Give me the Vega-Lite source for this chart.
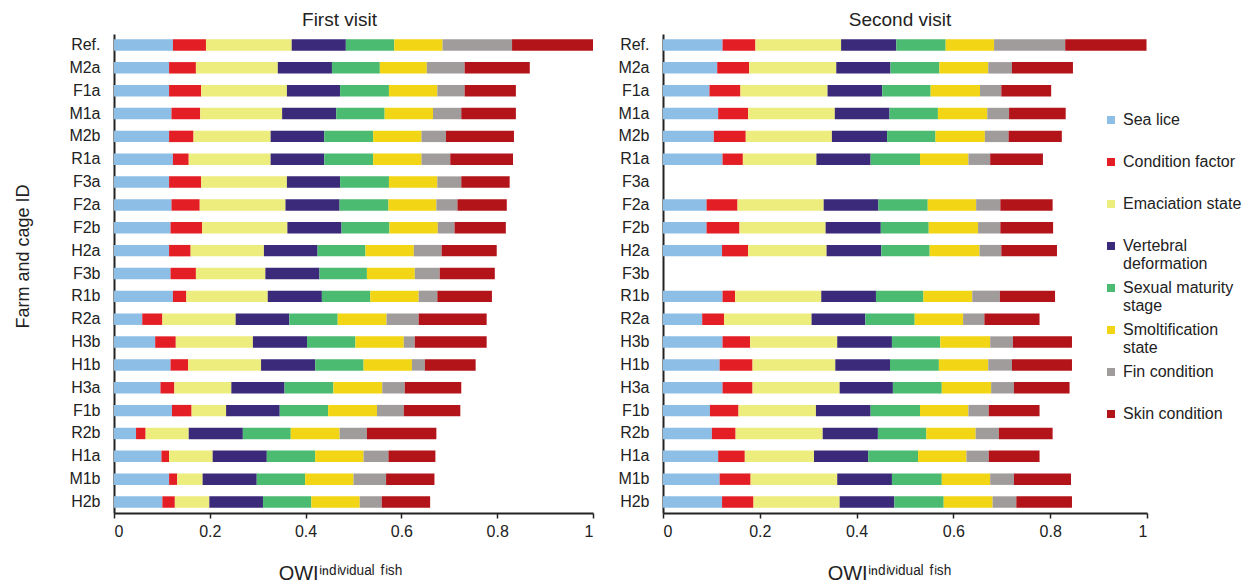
{
  "$schema": "https://vega.github.io/schema/vega-lite/v6.json",
  "padding": {"left": 14, "top": 11, "right": 5, "bottom": 2},
  "background": "white",
  "config": {
    "font": "Liberation Sans",
    "view": {"stroke": null},
    "axis": {"labelFont": "Liberation Sans", "titleFont": "Liberation Sans", "labelColor": "#222", "titleColor": "#222", "domainColor": "#222", "tickColor": "#222", "grid": false},
    "legend": {"labelFont": "Liberation Sans"}
  },
  "datasets": {
    "order": [
      {"component": "Sea lice", "rank": 1},
      {"component": "Condition factor", "rank": 2},
      {"component": "Emaciation state", "rank": 3},
      {"component": "Vertebral deformation", "rank": 4},
      {"component": "Sexual maturity stage", "rank": 5},
      {"component": "Smoltification state", "rank": 6},
      {"component": "Fin condition", "rank": 7},
      {"component": "Skin condition", "rank": 8}
    ],
    "first": [
      {"id": "Ref.", "Sea lice": 0.123, "Condition factor": 0.069, "Emaciation state": 0.179, "Vertebral deformation": 0.113, "Sexual maturity stage": 0.101, "Smoltification state": 0.101, "Fin condition": 0.145, "Skin condition": 0.169},
      {"id": "M2a", "Sea lice": 0.115, "Condition factor": 0.056, "Emaciation state": 0.171, "Vertebral deformation": 0.113, "Sexual maturity stage": 0.100, "Smoltification state": 0.098, "Fin condition": 0.079, "Skin condition": 0.136},
      {"id": "F1a", "Sea lice": 0.115, "Condition factor": 0.067, "Emaciation state": 0.179, "Vertebral deformation": 0.111, "Sexual maturity stage": 0.102, "Smoltification state": 0.101, "Fin condition": 0.057, "Skin condition": 0.107},
      {"id": "M1a", "Sea lice": 0.120, "Condition factor": 0.060, "Emaciation state": 0.171, "Vertebral deformation": 0.113, "Sexual maturity stage": 0.101, "Smoltification state": 0.101, "Fin condition": 0.059, "Skin condition": 0.114},
      {"id": "M2b", "Sea lice": 0.115, "Condition factor": 0.051, "Emaciation state": 0.161, "Vertebral deformation": 0.112, "Sexual maturity stage": 0.102, "Smoltification state": 0.101, "Fin condition": 0.051, "Skin condition": 0.142},
      {"id": "R1a", "Sea lice": 0.123, "Condition factor": 0.033, "Emaciation state": 0.171, "Vertebral deformation": 0.112, "Sexual maturity stage": 0.102, "Smoltification state": 0.101, "Fin condition": 0.060, "Skin condition": 0.131},
      {"id": "F3a", "Sea lice": 0.115, "Condition factor": 0.067, "Emaciation state": 0.179, "Vertebral deformation": 0.111, "Sexual maturity stage": 0.102, "Smoltification state": 0.101, "Fin condition": 0.050, "Skin condition": 0.101},
      {"id": "F2a", "Sea lice": 0.120, "Condition factor": 0.059, "Emaciation state": 0.179, "Vertebral deformation": 0.113, "Sexual maturity stage": 0.102, "Smoltification state": 0.100, "Fin condition": 0.044, "Skin condition": 0.103},
      {"id": "F2b", "Sea lice": 0.118, "Condition factor": 0.066, "Emaciation state": 0.178, "Vertebral deformation": 0.113, "Sexual maturity stage": 0.100, "Smoltification state": 0.101, "Fin condition": 0.035, "Skin condition": 0.107},
      {"id": "H2a", "Sea lice": 0.115, "Condition factor": 0.045, "Emaciation state": 0.153, "Vertebral deformation": 0.112, "Sexual maturity stage": 0.100, "Smoltification state": 0.101, "Fin condition": 0.058, "Skin condition": 0.115},
      {"id": "F3b", "Sea lice": 0.118, "Condition factor": 0.053, "Emaciation state": 0.145, "Vertebral deformation": 0.113, "Sexual maturity stage": 0.099, "Smoltification state": 0.100, "Fin condition": 0.052, "Skin condition": 0.115},
      {"id": "R1b", "Sea lice": 0.123, "Condition factor": 0.028, "Emaciation state": 0.170, "Vertebral deformation": 0.113, "Sexual maturity stage": 0.101, "Smoltification state": 0.101, "Fin condition": 0.039, "Skin condition": 0.114},
      {"id": "R2a", "Sea lice": 0.059, "Condition factor": 0.042, "Emaciation state": 0.153, "Vertebral deformation": 0.112, "Sexual maturity stage": 0.101, "Smoltification state": 0.102, "Fin condition": 0.067, "Skin condition": 0.142},
      {"id": "H3b", "Sea lice": 0.086, "Condition factor": 0.043, "Emaciation state": 0.161, "Vertebral deformation": 0.113, "Sexual maturity stage": 0.101, "Smoltification state": 0.101, "Fin condition": 0.023, "Skin condition": 0.150},
      {"id": "H1b", "Sea lice": 0.118, "Condition factor": 0.037, "Emaciation state": 0.152, "Vertebral deformation": 0.113, "Sexual maturity stage": 0.101, "Smoltification state": 0.101, "Fin condition": 0.027, "Skin condition": 0.106},
      {"id": "H3a", "Sea lice": 0.097, "Condition factor": 0.029, "Emaciation state": 0.119, "Vertebral deformation": 0.111, "Sexual maturity stage": 0.102, "Smoltification state": 0.102, "Fin condition": 0.047, "Skin condition": 0.118},
      {"id": "F1b", "Sea lice": 0.121, "Condition factor": 0.041, "Emaciation state": 0.072, "Vertebral deformation": 0.112, "Sexual maturity stage": 0.101, "Smoltification state": 0.102, "Fin condition": 0.056, "Skin condition": 0.118},
      {"id": "R2b", "Sea lice": 0.046, "Condition factor": 0.020, "Emaciation state": 0.090, "Vertebral deformation": 0.113, "Sexual maturity stage": 0.100, "Smoltification state": 0.102, "Fin condition": 0.057, "Skin condition": 0.145},
      {"id": "H1a", "Sea lice": 0.099, "Condition factor": 0.016, "Emaciation state": 0.091, "Vertebral deformation": 0.113, "Sexual maturity stage": 0.101, "Smoltification state": 0.101, "Fin condition": 0.052, "Skin condition": 0.098},
      {"id": "M1b", "Sea lice": 0.115, "Condition factor": 0.017, "Emaciation state": 0.053, "Vertebral deformation": 0.113, "Sexual maturity stage": 0.101, "Smoltification state": 0.101, "Fin condition": 0.068, "Skin condition": 0.101},
      {"id": "H2b", "Sea lice": 0.101, "Condition factor": 0.026, "Emaciation state": 0.072, "Vertebral deformation": 0.112, "Sexual maturity stage": 0.101, "Smoltification state": 0.101, "Fin condition": 0.046, "Skin condition": 0.101}
    ],
    "second": [
      {"id": "Ref.", "Sea lice": 0.123, "Condition factor": 0.068, "Emaciation state": 0.177, "Vertebral deformation": 0.114, "Sexual maturity stage": 0.102, "Smoltification state": 0.100, "Fin condition": 0.147, "Skin condition": 0.168},
      {"id": "M2a", "Sea lice": 0.112, "Condition factor": 0.066, "Emaciation state": 0.180, "Vertebral deformation": 0.112, "Sexual maturity stage": 0.101, "Smoltification state": 0.101, "Fin condition": 0.049, "Skin condition": 0.126},
      {"id": "F1a", "Sea lice": 0.096, "Condition factor": 0.064, "Emaciation state": 0.180, "Vertebral deformation": 0.113, "Sexual maturity stage": 0.100, "Smoltification state": 0.102, "Fin condition": 0.044, "Skin condition": 0.103},
      {"id": "M1a", "Sea lice": 0.114, "Condition factor": 0.062, "Emaciation state": 0.179, "Vertebral deformation": 0.113, "Sexual maturity stage": 0.100, "Smoltification state": 0.102, "Fin condition": 0.045, "Skin condition": 0.117},
      {"id": "M2b", "Sea lice": 0.105, "Condition factor": 0.066, "Emaciation state": 0.178, "Vertebral deformation": 0.114, "Sexual maturity stage": 0.100, "Smoltification state": 0.102, "Fin condition": 0.049, "Skin condition": 0.110},
      {"id": "R1a", "Sea lice": 0.123, "Condition factor": 0.042, "Emaciation state": 0.152, "Vertebral deformation": 0.112, "Sexual maturity stage": 0.102, "Smoltification state": 0.100, "Fin condition": 0.045, "Skin condition": 0.109},
      {"id": "F2a", "Sea lice": 0.090, "Condition factor": 0.064, "Emaciation state": 0.178, "Vertebral deformation": 0.113, "Sexual maturity stage": 0.102, "Smoltification state": 0.100, "Fin condition": 0.050, "Skin condition": 0.108},
      {"id": "F2b", "Sea lice": 0.090, "Condition factor": 0.068, "Emaciation state": 0.178, "Vertebral deformation": 0.114, "Sexual maturity stage": 0.099, "Smoltification state": 0.102, "Fin condition": 0.046, "Skin condition": 0.109},
      {"id": "H2a", "Sea lice": 0.122, "Condition factor": 0.054, "Emaciation state": 0.162, "Vertebral deformation": 0.113, "Sexual maturity stage": 0.100, "Smoltification state": 0.103, "Fin condition": 0.045, "Skin condition": 0.115},
      {"id": "R1b", "Sea lice": 0.123, "Condition factor": 0.026, "Emaciation state": 0.178, "Vertebral deformation": 0.113, "Sexual maturity stage": 0.098, "Smoltification state": 0.101, "Fin condition": 0.057, "Skin condition": 0.114},
      {"id": "R2a", "Sea lice": 0.081, "Condition factor": 0.045, "Emaciation state": 0.181, "Vertebral deformation": 0.111, "Sexual maturity stage": 0.102, "Smoltification state": 0.100, "Fin condition": 0.044, "Skin condition": 0.114},
      {"id": "H3b", "Sea lice": 0.123, "Condition factor": 0.057, "Emaciation state": 0.180, "Vertebral deformation": 0.113, "Sexual maturity stage": 0.100, "Smoltification state": 0.103, "Fin condition": 0.047, "Skin condition": 0.122},
      {"id": "H1b", "Sea lice": 0.117, "Condition factor": 0.068, "Emaciation state": 0.171, "Vertebral deformation": 0.113, "Sexual maturity stage": 0.101, "Smoltification state": 0.102, "Fin condition": 0.049, "Skin condition": 0.124},
      {"id": "H3a", "Sea lice": 0.123, "Condition factor": 0.062, "Emaciation state": 0.180, "Vertebral deformation": 0.110, "Sexual maturity stage": 0.101, "Smoltification state": 0.102, "Fin condition": 0.047, "Skin condition": 0.115},
      {"id": "F1b", "Sea lice": 0.097, "Condition factor": 0.059, "Emaciation state": 0.160, "Vertebral deformation": 0.113, "Sexual maturity stage": 0.102, "Smoltification state": 0.100, "Fin condition": 0.042, "Skin condition": 0.105},
      {"id": "R2b", "Sea lice": 0.101, "Condition factor": 0.049, "Emaciation state": 0.180, "Vertebral deformation": 0.114, "Sexual maturity stage": 0.100, "Smoltification state": 0.102, "Fin condition": 0.048, "Skin condition": 0.111},
      {"id": "H1a", "Sea lice": 0.114, "Condition factor": 0.055, "Emaciation state": 0.143, "Vertebral deformation": 0.112, "Sexual maturity stage": 0.103, "Smoltification state": 0.100, "Fin condition": 0.046, "Skin condition": 0.105},
      {"id": "M1b", "Sea lice": 0.117, "Condition factor": 0.064, "Emaciation state": 0.179, "Vertebral deformation": 0.113, "Sexual maturity stage": 0.103, "Smoltification state": 0.100, "Fin condition": 0.049, "Skin condition": 0.118},
      {"id": "H2b", "Sea lice": 0.122, "Condition factor": 0.065, "Emaciation state": 0.178, "Vertebral deformation": 0.113, "Sexual maturity stage": 0.102, "Smoltification state": 0.101, "Fin condition": 0.049, "Skin condition": 0.115}
    ]
  },
  "spacing": 23,
  "hconcat": [
    {
      "data": {"name": "first"},
      "title": {"text": "First visit", "frame": "group", "anchor": "middle", "fontSize": 19, "fontWeight": "normal", "offset": 4, "dx": -14, "color": "#222"},
      "width": 479,
      "height": 479,
      "transform": [
        {"fold": ["Sea lice", "Condition factor", "Emaciation state", "Vertebral deformation", "Sexual maturity stage", "Smoltification state", "Fin condition", "Skin condition"], "as": ["component", "value"]},
        {"lookup": "component", "from": {"data": {"name": "order"}, "key": "component", "fields": ["rank"]}}
      ],
      "mark": {"type": "bar"},
      "encoding": {
        "y": {"field": "id", "type": "nominal", "sort": null,
          "scale": {"domain": ["Ref.", "M2a", "F1a", "M1a", "M2b", "R1a", "F3a", "F2a", "F2b", "H2a", "F3b", "R1b", "R2a", "H3b", "H1b", "H3a", "F1b", "R2b", "H1a", "M1b", "H2b"], "paddingInner": 0.5, "paddingOuter": 0.23},
          "axis": {"title": "Farm and cage ID", "titleFontSize": 18, "titleFontWeight": "normal", "titlePadding": 36, "titleY": 222, "labelFontSize": 16, "ticks": false, "labelPadding": 14, "domainWidth": 2}},
        "x": {"field": "value", "type": "quantitative", "stack": "zero",
          "scale": {"domain": [0, 1], "nice": false},
          "axis": {"title": "OWIⁱⁿᵈⁱᵛⁱᵈᵘᵃˡ ᶠⁱˢʰ", "titleFontSize": 20, "titleFontWeight": "normal", "titlePadding": 24, "titleX": 226, "values": [0, 0.2, 0.4, 0.6, 0.8, 1], "format": "~g", "labelFontSize": 16, "labelPadding": 5, "tickSize": 5, "domainWidth": 2, "tickWidth": 1.5}},
        "order": {"field": "rank", "type": "quantitative"},
        "color": {"field": "component", "type": "nominal",
          "scale": {"domain": ["Sea lice", "Condition factor", "Emaciation state", "Vertebral deformation", "Sexual maturity stage", "Smoltification state", "Fin condition", "Skin condition"],
            "range": ["#8dbfe6", "#e31e24", "#eded7d", "#3b2a7a", "#4cbb72", "#f2d515", "#a09c9b", "#b31419"]},
          "legend": {"title": null, "orient": "none", "legendX": 989, "legendY": 78, "symbolType": "square", "symbolSize": 64, "symbolStrokeWidth": 0, "labelFontSize": 16, "labelColor": "#222", "rowPadding": 8, "labelOffset": 4,
            "labelExpr": "datum.label == 'Vertebral deformation' ? ['Vertebral', 'deformation'] : datum.label == 'Sexual maturity stage' ? ['Sexual maturity', 'stage'] : datum.label == 'Smoltification state' ? ['Smoltification', 'state'] : [datum.label, '']"}}
      }
    },
    {
      "data": {"name": "second"},
      "title": {"text": "Second visit", "frame": "group", "anchor": "middle", "fontSize": 19, "fontWeight": "normal", "offset": 4, "dx": -5, "color": "#222"},
      "width": 484,
      "height": 479,
      "transform": [
        {"fold": ["Sea lice", "Condition factor", "Emaciation state", "Vertebral deformation", "Sexual maturity stage", "Smoltification state", "Fin condition", "Skin condition"], "as": ["component", "value"]},
        {"lookup": "component", "from": {"data": {"name": "order"}, "key": "component", "fields": ["rank"]}}
      ],
      "mark": {"type": "bar"},
      "encoding": {
        "y": {"field": "id", "type": "nominal", "sort": null,
          "scale": {"domain": ["Ref.", "M2a", "F1a", "M1a", "M2b", "R1a", "F3a", "F2a", "F2b", "H2a", "F3b", "R1b", "R2a", "H3b", "H1b", "H3a", "F1b", "R2b", "H1a", "M1b", "H2b"], "paddingInner": 0.5, "paddingOuter": 0.23},
          "axis": {"title": null, "labelFontSize": 16, "ticks": false, "labelPadding": 14, "domainWidth": 2}},
        "x": {"field": "value", "type": "quantitative", "stack": "zero",
          "scale": {"domain": [0, 1], "nice": false},
          "axis": {"title": "OWIⁱⁿᵈⁱᵛⁱᵈᵘᵃˡ ᶠⁱˢʰ", "titleFontSize": 20, "titleFontWeight": "normal", "titlePadding": 24, "titleX": 226, "values": [0, 0.2, 0.4, 0.6, 0.8, 1], "format": "~g", "labelFontSize": 16, "labelPadding": 5, "tickSize": 5, "domainWidth": 2, "tickWidth": 1.5}},
        "order": {"field": "rank", "type": "quantitative"},
        "color": {"field": "component", "type": "nominal"}
      }
    }
  ],
  "resolve": {"scale": {"color": "shared"}}
}
